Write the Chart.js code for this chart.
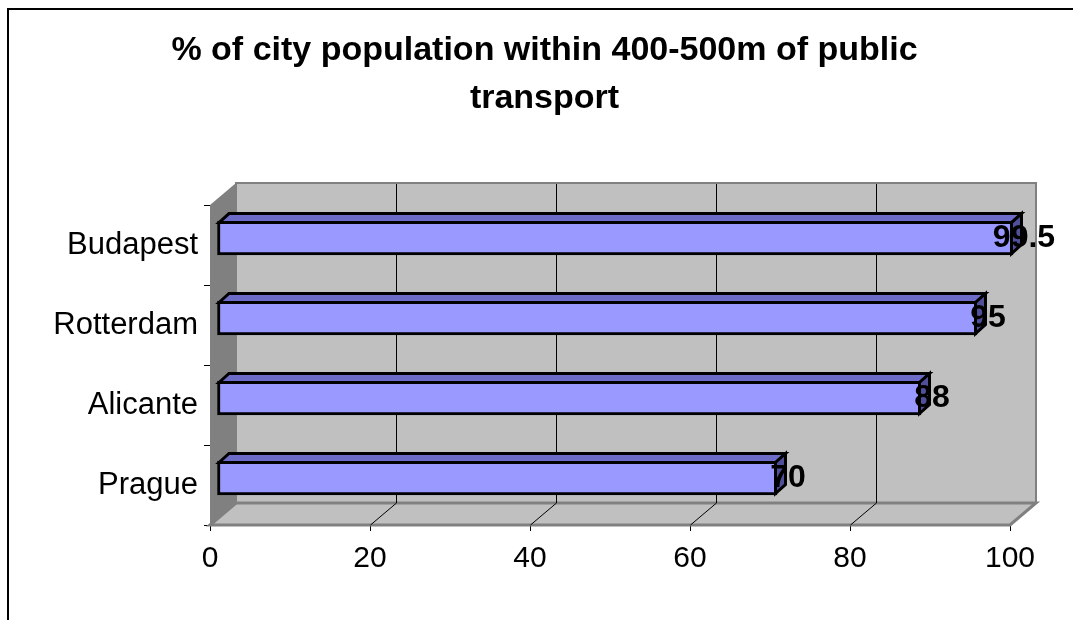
<!DOCTYPE html>
<html>
<head>
<meta charset="utf-8">
<script src="https://cdn.jsdelivr.net/npm/chart.js@4"></script>
<style>
  html, body { margin: 0; padding: 0; background: #ffffff; }
  canvas { display: block; }
</style>
</head>
<body>
<canvas id="c" width="1073" height="620"></canvas>
<script>
// ---- data ----
const titleLines = ['% of city population within 400-500m of public', 'transport'];
const categories = ['Budapest', 'Rotterdam', 'Alicante', 'Prague'];
const values = [99.5, 95, 88, 70];
const xMin = 0;
const xMax = 100;
const xStep = 20;

const FONT = "'Liberation Sans', Arial, Helvetica, sans-serif";

// 3D look (styling only)
const WALL = { dx: 26, dy: 22 };   // depth of the plot box
const BAR_OFF = { dx: 7, dy: 7 };  // depth position of bar front face
const BAR_D = { dx: 10, dy: 9 };   // bar thickness in depth

function poly(ctx, pts) {
  ctx.beginPath();
  ctx.moveTo(pts[0][0], pts[0][1]);
  for (let i = 1; i < pts.length; i++) ctx.lineTo(pts[i][0], pts[i][1]);
  ctx.closePath();
}

const threeD = {
  id: 'threeD',
  beforeDraw(chart) {
    const ctx = chart.ctx;
    ctx.save();
    ctx.fillStyle = '#ffffff';
    ctx.fillRect(0, 0, chart.width, chart.height);
    ctx.strokeStyle = '#000000';
    ctx.lineWidth = 2;
    ctx.beginPath();
    ctx.moveTo(8, chart.height + 2);
    ctx.lineTo(8, 9);
    ctx.lineTo(chart.width + 2, 9);
    ctx.stroke();
    ctx.restore();
  },
  beforeDatasetsDraw(chart) {
    const { ctx, chartArea: { left, right, top, bottom }, scales: { x } } = chart;
    const dx = WALL.dx, dy = WALL.dy;
    ctx.save();
    // back wall
    ctx.fillStyle = '#c0c0c0';
    ctx.fillRect(left + dx, top - dy, right - left, bottom - top);
    ctx.strokeStyle = '#808080';
    ctx.lineWidth = 2;
    ctx.strokeRect(left + dx, top - dy, right - left, bottom - top);
    // left wall
    poly(ctx, [[left, top], [left + dx, top - dy], [left + dx, bottom - dy], [left, bottom]]);
    ctx.fillStyle = '#808080';
    ctx.fill();
    // floor
    poly(ctx, [[left, bottom], [left + dx, bottom - dy], [right + dx, bottom - dy], [right, bottom]]);
    ctx.fillStyle = '#c0c0c0';
    ctx.fill();
    ctx.strokeStyle = '#808080';
    ctx.lineWidth = 3;
    ctx.stroke();
    // grid lines on back wall and floor
    ctx.strokeStyle = '#000000';
    ctx.lineWidth = 1;
    x.ticks.forEach(t => {
      if (t.value <= xMin || t.value >= xMax) return;
      const px = Math.round(x.getPixelForValue(t.value)) + 0.5;
      ctx.beginPath();
      ctx.moveTo(px + dx, top - dy + 1);
      ctx.lineTo(px + dx, bottom - dy);
      ctx.lineTo(px, bottom);
      ctx.stroke();
    });
    ctx.restore();
  },
  beforeDatasetDraw(chart) {
    chart.ctx.save();
    chart.ctx.translate(BAR_OFF.dx, -BAR_OFF.dy);
  },
  afterDatasetDraw(chart) {
    chart.ctx.restore();
  },
  afterDatasetsDraw(chart) {
    const ctx = chart.ctx;
    const meta = chart.getDatasetMeta(0);
    const ds = chart.data.datasets[0];
    ctx.save();
    ctx.lineWidth = 3;
    ctx.lineJoin = 'miter';
    ctx.strokeStyle = '#000000';
    meta.data.forEach((bar, i) => {
      const p = bar.getProps(['x', 'y', 'base', 'height'], true);
      const h = 1.5;
      const x0 = p.base + BAR_OFF.dx + h;
      const x1 = p.x + BAR_OFF.dx - h;
      const yT = p.y - p.height / 2 - BAR_OFF.dy + h;
      const yB = p.y + p.height / 2 - BAR_OFF.dy - h;
      // top face
      poly(ctx, [[x0, yT], [x0 + BAR_D.dx, yT - BAR_D.dy], [x1 + BAR_D.dx, yT - BAR_D.dy], [x1, yT]]);
      ctx.fillStyle = '#6c6cc8';
      ctx.fill();
      ctx.stroke();
      // end face
      poly(ctx, [[x1, yT], [x1 + BAR_D.dx, yT - BAR_D.dy], [x1 + BAR_D.dx, yB - BAR_D.dy], [x1, yB]]);
      ctx.fillStyle = '#50509a';
      ctx.fill();
      ctx.stroke();
    });
    // value labels
    ctx.fillStyle = '#000000';
    ctx.font = 'bold 32px ' + FONT;
    ctx.textAlign = 'center';
    ctx.textBaseline = 'alphabetic';
    meta.data.forEach((bar, i) => {
      const p = bar.getProps(['x', 'y'], true);
      ctx.fillText(String(ds.data[i]), p.x + BAR_OFF.dx + 11, p.y - BAR_OFF.dy + 9);
    });
    ctx.restore();
  }
};

new Chart(document.getElementById('c'), {
  type: 'bar',
  data: {
    labels: categories,
    datasets: [{
      data: values,
      backgroundColor: '#9999ff',
      borderColor: '#000000',
      borderWidth: 3,
      borderSkipped: false,
      barThickness: 34,
      clip: false
    }]
  },
  options: {
    indexAxis: 'y',
    responsive: false,
    animation: false,
    devicePixelRatio: 1,
    layout: { padding: { left: 16, right: 0, top: 0, bottom: 0 } },
    plugins: {
      legend: { display: false },
      tooltip: { enabled: false },
      title: {
        display: true,
        text: titleLines,
        color: '#000000',
        font: { family: FONT, size: 34, weight: 'bold', lineHeight: 1.412 },
        padding: { top: 27, bottom: 82 }
      }
    },
    scales: {
      x: {
        type: 'linear',
        min: xMin,
        max: xMax,
        afterFit(s) { s.height = 95; },
        ticks: {
          stepSize: xStep,
          color: '#000000',
          padding: 10,
          font: { family: FONT, size: 30 }
        },
        grid: { drawOnChartArea: false, drawTicks: true, tickLength: 6, color: '#000000' },
        border: { display: true, color: '#000000', width: 1 }
      },
      y: {
        type: 'category',
        afterFit(s) { s.width = 194; },
        ticks: {
          color: '#000000',
          padding: 6,
          font: { family: FONT, size: 31 }
        },
        grid: { drawOnChartArea: false, drawTicks: true, tickLength: 6, color: '#000000', offset: true },
        border: { display: true, color: '#000000', width: 1 }
      },
      yRight: {
        type: 'category',
        position: 'right',
        afterFit(s) { s.width = 63; },
        ticks: { display: false },
        grid: { display: false },
        border: { display: false }
      }
    }
  },
  plugins: [threeD]
});
</script>
</body>
</html>
